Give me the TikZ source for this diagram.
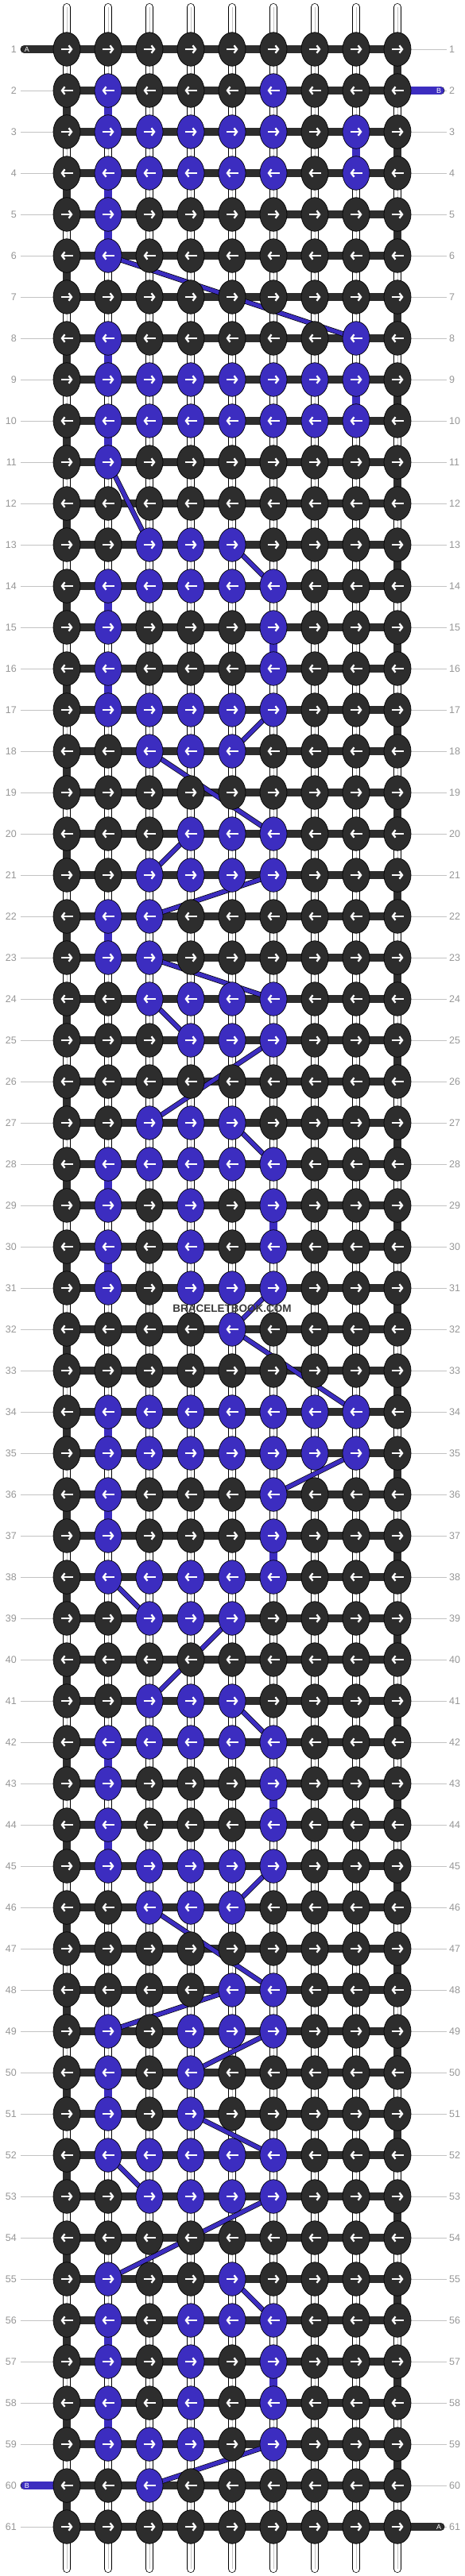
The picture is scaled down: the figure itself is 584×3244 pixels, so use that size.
\documentclass[tikz,border=0pt]{standalone}
\usepackage{fontspec}
\setmainfont{Liberation Sans}
\usetikzlibrary{shapes.geometric,arrows.meta}

\definecolor{knotdark}{RGB}{45,45,45}
\definecolor{knotblue}{RGB}{60,45,192}
\definecolor{numgray}{RGB}{150,150,150}
\definecolor{rulegray}{RGB}{195,195,195}
\definecolor{brandgray}{RGB}{58,58,58}

\tikzset{
  knot/.style={ellipse, draw=black, line width=0.7pt, minimum width=34pt, minimum height=42.5pt, inner sep=0pt},
  knotarrow/.style={draw=white, line width=2.3pt, -{Straight Barb[length=3.6pt,width=9.5pt]}},
  warp/.style={draw=black, line width=0.7pt, double=white, double distance=8.5pt, line cap=round},
  warpmid/.style={draw=rulegray, line width=0.8pt},
  weft/.style={draw=black, line width=0.7pt, double=knotdark, double distance=9.5pt},
  bweft/.style={draw=black, line width=0.7pt, double=knotblue, double distance=9.5pt},
  bjump/.style={draw=black, line width=0.7pt, double=knotblue, double distance=5pt},
  ruler/.style={draw=rulegray, line width=0.9pt},
  rowlbl/.style={text=numgray, font=\fontsize{12.5}{13}\selectfont, inner sep=0pt},
  stublbl/.style={text=white, font=\fontsize{9}{9}\selectfont, inner sep=0pt},
  brand/.style={text=brandgray, font=\bfseries\fontsize{13.5}{14}\selectfont, inner sep=1pt}
}

\begin{document}
\begin{tikzpicture}[x=1pt, y=-1pt]
\useasboundingbox (0,0) rectangle (584,3244);

%% GRID POINTS
\foreach \r in {1,...,61}{
  \foreach \c in {1,...,9}{
    \coordinate (pt_\r_\c) at ({84+52*(\c-1)}, {62+52*(\r-1)});
  }
  \coordinate (edgeL_\r) at (26, {62+52*(\r-1)});
  \coordinate (edgeR_\r) at (562, {62+52*(\r-1)});
}

%% STRINGS
\foreach \c in {1,...,9}{
  \coordinate (top_\c) at ({84+52*(\c-1)}, 9);
  \coordinate (bot_\c) at ({84+52*(\c-1)}, 3235);
  \draw[warp] (top_\c) -- (bot_\c);
  \draw[warpmid] (top_\c) -- (bot_\c);
}

%% ROW NUMBERS
\foreach \r in {1,...,61}{
  \draw[ruler] (edgeL_\r) -- (pt_\r_1);
  \draw[ruler] (pt_\r_9) -- (edgeR_\r);
  \node[rowlbl, anchor=east] (numL_\r) at (21, {62+52*(\r-1)}) {\r};
  \node[rowlbl, anchor=west] (numR_\r) at (565, {62+52*(\r-1)}) {\r};
}

%% THREAD A
\foreach \r in {1,...,61}
  \draw[weft] (pt_\r_1) -- (pt_\r_9);
\foreach \r in {1,...,60}{
  \pgfmathtruncatemacro\n{\r+1}
  \ifodd\r \draw[weft] (pt_\r_9) -- (pt_\n_9);
  \else \draw[weft] (pt_\r_1) -- (pt_\n_1); \fi
}

% loose ends
\coordinate (endA_in) at (31,62);
\coordinate (endB_in) at (554,114);
\coordinate (endB_out) at (31,3130);
\coordinate (endA_out) at (554,3182);
\draw[weft, line cap=round] (endA_in) -- (pt_1_1);
\draw[bweft, line cap=round] (pt_2_9) -- (endB_in);
\draw[bweft, line cap=round] (endB_out) -- (pt_60_1);
\draw[weft, line cap=round] (pt_61_9) -- (endA_out);
\node[stublbl] (tagA_in) at (34,62) {A};
\node[stublbl] (tagB_in) at (552,114) {B};
\node[stublbl] (tagB_out) at (34,3130) {B};
\node[stublbl] (tagA_out) at (552,3182) {A};

%% THREAD B
\foreach \r/\c in {2/2,3/8,4/2,5/2,8/2,9/8,10/2,14/2,15/6,16/2,22/2,28/2,29/6,30/2,
                   34/2,36/2,37/6,42/2,43/6,44/2,50/2,56/2,57/6,58/2}{
  \pgfmathtruncatemacro\n{\r+1}
  \draw[bweft] (pt_\r_\c) -- (pt_\n_\c);
}
\foreach \ra/\ca/\rb/\cb in {6/2/8/8, 11/2/13/3, 13/5/14/6, 17/6/18/5, 18/3/20/6,
    20/4/21/3, 21/6/22/3, 23/3/24/6, 24/3/25/4, 25/6/27/3, 27/5/28/6, 31/6/32/5,
    32/5/34/8, 35/8/36/6, 38/2/39/3, 39/5/41/3, 41/5/42/6, 45/6/46/5, 46/3/48/6,
    48/5/49/2, 49/6/50/4, 51/4/52/6, 52/2/53/3, 53/6/55/2, 55/5/56/6, 59/6/60/3}
  \draw[bjump] (pt_\ra_\ca) -- (pt_\rb_\cb);

%% KNOTS
\foreach \r/\pat in {
   1/{0,0,0,0,0,0,0,0,0},  2/{0,1,0,0,0,1,0,0,0},  3/{0,1,1,1,1,1,0,1,0},
   4/{0,1,1,1,1,1,0,1,0},  5/{0,1,0,0,0,0,0,0,0},  6/{0,1,0,0,0,0,0,0,0},
   7/{0,0,0,0,0,0,0,0,0},  8/{0,1,0,0,0,0,0,1,0},  9/{0,1,1,1,1,1,1,1,0},
  10/{0,1,1,1,1,1,1,1,0}, 11/{0,1,0,0,0,0,0,0,0}, 12/{0,0,0,0,0,0,0,0,0},
  13/{0,0,1,1,1,0,0,0,0}, 14/{0,1,1,1,1,1,0,0,0}, 15/{0,1,0,0,0,1,0,0,0},
  16/{0,1,0,0,0,1,0,0,0}, 17/{0,1,1,1,1,1,0,0,0}, 18/{0,0,1,1,1,0,0,0,0},
  19/{0,0,0,0,0,0,0,0,0}, 20/{0,0,0,1,1,1,0,0,0}, 21/{0,0,1,1,1,1,0,0,0},
  22/{0,1,1,0,0,0,0,0,0}, 23/{0,1,1,0,0,0,0,0,0}, 24/{0,0,1,1,1,1,0,0,0},
  25/{0,0,0,1,1,1,0,0,0}, 26/{0,0,0,0,0,0,0,0,0}, 27/{0,0,1,1,1,0,0,0,0},
  28/{0,1,1,1,1,1,0,0,0}, 29/{0,1,0,1,0,1,0,0,0}, 30/{0,1,0,1,0,1,0,0,0},
  31/{0,1,0,1,1,1,0,0,0}, 32/{0,0,0,0,1,0,0,0,0}, 33/{0,0,0,0,0,0,0,0,0},
  34/{0,1,1,1,1,1,1,1,0}, 35/{0,1,1,1,1,1,1,1,0}, 36/{0,1,0,0,0,1,0,0,0},
  37/{0,1,0,0,0,1,0,0,0}, 38/{0,1,1,1,1,1,0,0,0}, 39/{0,0,1,1,1,0,0,0,0},
  40/{0,0,0,0,0,0,0,0,0}, 41/{0,0,1,1,1,0,0,0,0}, 42/{0,1,1,1,1,1,0,0,0},
  43/{0,1,0,0,0,1,0,0,0}, 44/{0,1,0,0,0,1,0,0,0}, 45/{0,1,1,1,1,1,0,0,0},
  46/{0,0,1,1,1,0,0,0,0}, 47/{0,0,0,0,0,0,0,0,0}, 48/{0,0,0,0,1,1,0,0,0},
  49/{0,1,0,1,1,1,0,0,0}, 50/{0,1,0,1,0,0,0,0,0}, 51/{0,1,0,1,0,0,0,0,0},
  52/{0,1,1,1,1,1,0,0,0}, 53/{0,0,1,1,1,1,0,0,0}, 54/{0,0,0,0,0,0,0,0,0},
  55/{0,1,0,0,1,0,0,0,0}, 56/{0,1,0,1,1,1,0,0,0}, 57/{0,1,0,1,0,1,0,0,0},
  58/{0,1,0,1,0,1,0,0,0}, 59/{0,1,1,1,0,1,0,0,0}, 60/{0,0,1,0,0,0,0,0,0},
  61/{0,0,0,0,0,0,0,0,0}}{
  \foreach \v [count=\c] in \pat {
    \ifnum\v=1 \def\kcol{knotblue}\else\def\kcol{knotdark}\fi
    \node[knot, fill=\kcol] (knot_\r_\c) at (pt_\r_\c) {};
    \ifodd\r
      \draw[knotarrow] ([xshift=-7.5pt]knot_\r_\c.center) -- ([xshift=7.5pt]knot_\r_\c.center);
    \else
      \draw[knotarrow] ([xshift=7.5pt]knot_\r_\c.center) -- ([xshift=-7.5pt]knot_\r_\c.center);
    \fi
  }
}

\node[brand] (site) at (292,1648) {BRACELETBOOK.COM};

\end{tikzpicture}
\end{document}
